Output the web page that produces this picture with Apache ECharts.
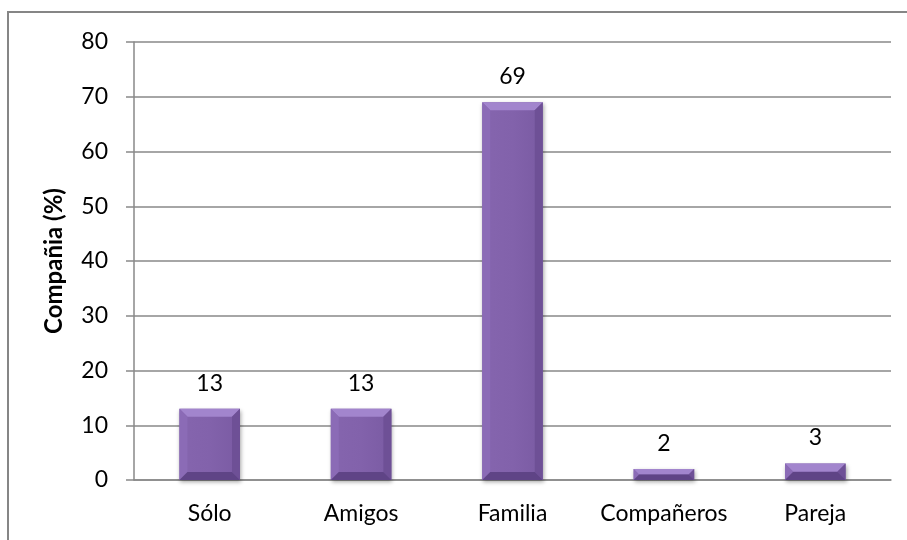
<!DOCTYPE html>
<html>
<head>
<meta charset="utf-8">
<script src="https://cdn.jsdelivr.net/npm/echarts@6/dist/echarts.min.js"></script>
<style>
  html, body { margin: 0; padding: 0; background: #fff; }
  #chart { width: 907px; height: 540px; }
</style>
</head>
<body>
<div id="chart"></div>
<script>
// Companion categories and share (%)
const categories = ['Sólo', 'Amigos', 'Familia', 'Compañeros', 'Pareja'];
const values = [13, 13, 69, 2, 3];
const yTicks = { min: 0, max: 80, interval: 10 };
const yTitle = 'Compañia (%)';

const FONT = 'Lato, "Open Sans", sans-serif';
const FS = 23;
const GRAY = '#898989';

// Bevelled column: flat face plus four edge facets
function renderBevelBar(params, api) {
  const base = api.coord([api.value(0), 0]);
  const top = api.coord([api.value(0), api.value(1)]);
  const w = api.size([1, 0])[0] * 0.4;
  const x0 = base[0] - w / 2, x1 = base[0] + w / 2;
  const y0 = top[1], y1 = base[1];
  const h = y1 - y0;
  const b = Math.min(8, h / 2, w / 2);
  const poly = (points, fill) => ({ type: 'polygon', shape: { points }, style: { fill } });
  return {
    type: 'group',
    children: [
      {
        type: 'rect',
        shape: { x: x0, y: y0, width: w, height: h },
        style: {
          fill: new echarts.graphic.LinearGradient(0, 0, 1, 0, [
            { offset: 0, color: '#8565ae' },
            { offset: 0.5, color: '#8262ab' },
            { offset: 1, color: '#7a5ba3' }
          ]),
          shadowBlur: 4, shadowOffsetX: 1, shadowOffsetY: 2, shadowColor: 'rgba(0,0,0,0.35)'
        }
      },
      poly([[x0, y0], [x1, y0], [x1 - b, y0 + b], [x0 + b, y0 + b]], '#a285cd'),
      poly([[x0, y0], [x0 + b, y0 + b], [x0 + b, y1 - b], [x0, y1]], '#8b6bb6'),
      poly([[x1, y0], [x1, y1], [x1 - b, y1 - b], [x1 - b, y0 + b]], '#6e5096'),
      poly([[x0, y1], [x0 + b, y1 - b], [x1 - b, y1 - b], [x1, y1]], '#5f4486'),
      {
        type: 'text',
        style: {
          text: String(api.value(1)),
          x: base[0], y: y0 - 14,
          align: 'center', verticalAlign: 'bottom',
          font: FS + 'px ' + FONT, fill: '#000'
        }
      }
    ]
  };
}

const chart = echarts.init(document.getElementById('chart'));
chart.setOption({
  animation: false,
  backgroundColor: '#fff',
  graphic: [{
    type: 'rect',
    shape: { x: 8, y: 12, width: 905, height: 540 },
    style: { fill: 'none', stroke: '#868686', lineWidth: 2 },
    z: 100
  }],
  grid: { left: 134, right: 16, top: 42, bottom: 60 },
  xAxis: {
    type: 'category',
    data: categories,
    axisLine: { lineStyle: { color: GRAY, width: 1.5 } },
    axisTick: { show: false },
    axisLabel: { interval: 0, hideOverlap: false, color: '#000', fontFamily: FONT, fontSize: FS, margin: 22 }
  },
  yAxis: {
    type: 'value',
    min: yTicks.min, max: yTicks.max, interval: yTicks.interval,
    name: yTitle,
    nameLocation: 'middle',
    nameGap: 68,
    nameRotate: 90,
    nameTextStyle: { color: '#000', fontFamily: FONT, fontSize: 24, fontWeight: 'bold' },
    axisLine: { show: true, lineStyle: { color: GRAY, width: 1.5 } },
    axisTick: { show: true, length: 8, lineStyle: { color: GRAY, width: 1.5 } },
    axisLabel: { color: '#000', fontFamily: FONT, fontSize: FS, margin: 26 },
    splitLine: { lineStyle: { color: GRAY, width: 1.5 } }
  },
  series: [{
    type: 'custom',
    renderItem: renderBevelBar,
    encode: { x: 0, y: 1 },
    data: values.map((v, i) => [i, v]),
    z: 10
  }]
});
</script>
</body>
</html>
